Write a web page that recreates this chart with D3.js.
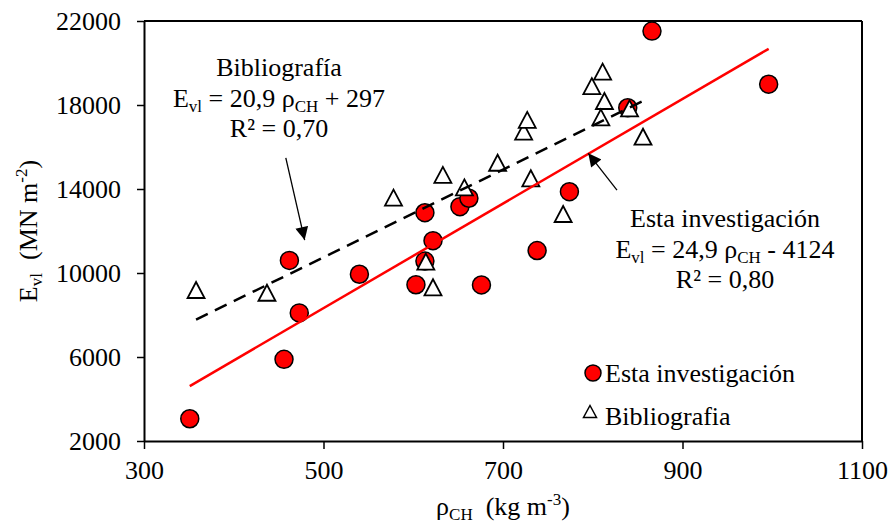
<!DOCTYPE html>
<html>
<head>
<meta charset="utf-8">
<script src="https://cdn.jsdelivr.net/npm/d3@7/dist/d3.min.js"></script>
<style>
body { margin: 0; background: #fff; }
text { font-family: "Liberation Serif", "Times New Roman", serif; fill: #000; }
</style>
</head>
<body>
<div id="chart"></div>
<script>
var svgWidth = 892;
var svgHeight = 523;

var margin = {
    top: 21,
    right: 30,
    bottom: 82,
    left: 144
};

var width = svgWidth - margin.left - margin.right;
var height = svgHeight - margin.top - margin.bottom;

// Esta investigación (red circles)
var estaX = [351, 456, 473, 462, 540, 603, 613, 622, 613, 652, 662, 676, 738, 774, 839, 866, 996];
var estaY = [3060, 5890, 8100, 10600, 9940, 9440, 10570, 11540, 12870, 13160, 13560, 9430, 11070, 13870, 17870, 21520, 18990];

// Bibliografía (open triangles)
var biblioX = [358, 437, 578, 633, 657, 694, 723, 727, 731, 767, 799, 811, 813, 809, 841, 856, 614, 622];
var biblioY = [9190, 9060, 13590, 14670, 14080, 15250, 16730, 17290, 14510, 12810, 18900, 19590, 18190, 17410, 17840, 16490, 10540, 9320];

// trend lines: slope, intercept (from the equations on the chart)
var estaFit = [24.9, -4124];
var biblioFit = [20.9, 297];

var xTicks = [300, 500, 700, 900, 1100];
var yTicks = [2000, 6000, 10000, 14000, 18000, 22000];

var svg = d3.select("#chart").append("svg")
    .attr("width", svgWidth)
    .attr("height", svgHeight);

var chartGroup = svg.append("g")
    .attr("transform", `translate(${margin.left}, ${margin.top})`);

var xScale = d3.scaleLinear().domain([300, 1100]).range([0, width]);
var yScale = d3.scaleLinear().domain([2000, 22000]).range([height, 0]);

var bottomAxis = d3.axisBottom(xScale).tickValues(xTicks).tickSize(8).tickPadding(12).tickSizeOuter(0)
    .tickFormat(d3.format("d"));
var leftAxis = d3.axisLeft(yScale).tickValues(yTicks).tickSize(7).tickPadding(16).tickSizeOuter(0)
    .tickFormat(d3.format("d"));

var xAxis = chartGroup.append("g")
    .attr("transform", `translate(0, ${height})`)
    .call(bottomAxis);
var yAxis = chartGroup.append("g").call(leftAxis);

[xAxis, yAxis].forEach(function(ax) {
    ax.select(".domain").attr("stroke", "#000").attr("stroke-width", 2);
    ax.selectAll(".tick line").attr("stroke", "#000").attr("stroke-width", 1.5);
    ax.selectAll(".tick text").attr("font-size", "26px")
        .attr("font-family", "'Liberation Serif', 'Times New Roman', serif").attr("fill", "#000");
});

// top and right borders
chartGroup.append("line").attr("x1", 0).attr("x2", width).attr("y1", 0).attr("y2", 0)
    .attr("stroke", "#000").attr("stroke-width", 2);
chartGroup.append("line").attr("x1", width).attr("x2", width).attr("y1", 0).attr("y2", height)
    .attr("stroke", "#000").attr("stroke-width", 2);

function triPath(cx, cy, w, h) {
    return `M${cx},${cy - h}L${cx + w},${cy + h}L${cx - w},${cy + h}Z`;
}

var esta = estaX.map((x, i) => ({x: x, y: estaY[i]}));
var biblio = biblioX.map((x, i) => ({x: x, y: biblioY[i]}));

chartGroup.selectAll(".esta").data(esta).enter().append("circle")
    .attr("class", "esta")
    .attr("cx", d => xScale(d.x))
    .attr("cy", d => yScale(d.y))
    .attr("r", 9)
    .attr("fill", "#ff0000")
    .attr("stroke", "#000")
    .attr("stroke-width", 1.5);

chartGroup.selectAll(".biblio").data(biblio).enter().append("path")
    .attr("class", "biblio")
    .attr("d", d => triPath(xScale(d.x), yScale(d.y), 8.5, 8))
    .attr("fill", "#fff")
    .attr("stroke", "#000")
    .attr("stroke-width", 1.8);

// trend lines
var line = d3.line().x(d => xScale(d[0])).y(d => yScale(d[1]));
var estaExt = d3.extent(estaX);
var biblioExt = d3.extent(biblioX);

chartGroup.append("path")
    .datum(estaExt.map(x => [x, estaFit[0] * x + estaFit[1]]))
    .attr("d", line)
    .attr("fill", "none")
    .attr("stroke", "#ff0000")
    .attr("stroke-width", 2.5);

chartGroup.append("path")
    .datum(biblioExt.map(x => [x, biblioFit[0] * x + biblioFit[1]]))
    .attr("d", line)
    .attr("fill", "none")
    .attr("stroke", "#000")
    .attr("stroke-width", 2.5)
    .attr("stroke-dasharray", "13,8");

// arrows
svg.append("defs").append("marker")
    .attr("id", "head")
    .attr("viewBox", "0 0 10 10")
    .attr("refX", 10).attr("refY", 5)
    .attr("markerWidth", 14).attr("markerHeight", 13)
    .attr("markerUnits", "userSpaceOnUse")
    .attr("orient", "auto")
    .append("path").attr("d", "M0,0L10,5L0,10Z").attr("fill", "#000");

var arrows = [
    [[458, 15480], [479, 11570]],
    [[827, 13950], [795, 15700]]
];
arrows.forEach(function(a) {
    chartGroup.append("line")
        .attr("x1", xScale(a[0][0])).attr("y1", yScale(a[0][1]))
        .attr("x2", xScale(a[1][0])).attr("y2", yScale(a[1][1]))
        .attr("stroke", "#000").attr("stroke-width", 1.3)
        .attr("marker-end", "url(#head)");
});

// equation labels
function eqLabel(cx, y0, title, slope, sign, inter, r2) {
    var g = svg.append("g").attr("font-size", "26px").attr("text-anchor", "middle");
    g.append("text").attr("x", cx).attr("y", y0).text(title);
    var t = g.append("text").attr("x", cx).attr("y", y0 + 31);
    t.append("tspan").text("E");
    t.append("tspan").attr("font-size", "17px").attr("dy", 5).text("vl");
    t.append("tspan").attr("dy", -5).text(" = " + slope + " ρ");
    t.append("tspan").attr("font-size", "17px").attr("dy", 5).text("CH");
    t.append("tspan").attr("dy", -5).text(" " + sign + " " + inter);
    g.append("text").attr("x", cx).attr("y", y0 + 61).text("R² = " + r2);
}
eqLabel(279, 76, "Bibliografía", "20,9", "+", "297", "0,70");
eqLabel(725, 227, "Esta investigación", "24,9", "-", "4124", "0,80");

// axis titles
var xt = svg.append("text")
    .attr("x", margin.left + width / 2)
    .attr("y", 515)
    .attr("text-anchor", "middle")
    .attr("font-size", "26px");
xt.append("tspan").text("ρ");
xt.append("tspan").attr("font-size", "17px").attr("dy", 5).text("CH");
xt.append("tspan").attr("dy", -5).text("  (kg m");
xt.append("tspan").attr("font-size", "17px").attr("dy", -10).text("-3");
xt.append("tspan").attr("dy", 10).text(")");
xt.attr("xml:space", "preserve");

var yt = svg.append("text")
    .attr("transform", `translate(37, ${margin.top + height / 2}) rotate(-90)`)
    .attr("text-anchor", "middle")
    .attr("font-size", "26px")
    .attr("xml:space", "preserve");
yt.append("tspan").text("E");
yt.append("tspan").attr("font-size", "17px").attr("dy", 5).text("vl");
yt.append("tspan").attr("dy", -5).text("  (MN m");
yt.append("tspan").attr("font-size", "17px").attr("dy", -10).text("-2");
yt.append("tspan").attr("dy", 10).text(")");

// legend
var legend = svg.append("g").attr("font-size", "26px");
legend.append("circle").attr("cx", 593).attr("cy", 373).attr("r", 8)
    .attr("fill", "#ff0000").attr("stroke", "#000").attr("stroke-width", 1.5);
legend.append("text").attr("x", 605).attr("y", 382).text("Esta investigación");
legend.append("path").attr("d", triPath(590, 411.5, 6.5, 6))
    .attr("fill", "#fff").attr("stroke", "#000").attr("stroke-width", 1.5);
legend.append("text").attr("x", 605).attr("y", 425).text("Bibliografia");
</script>
</body>
</html>
